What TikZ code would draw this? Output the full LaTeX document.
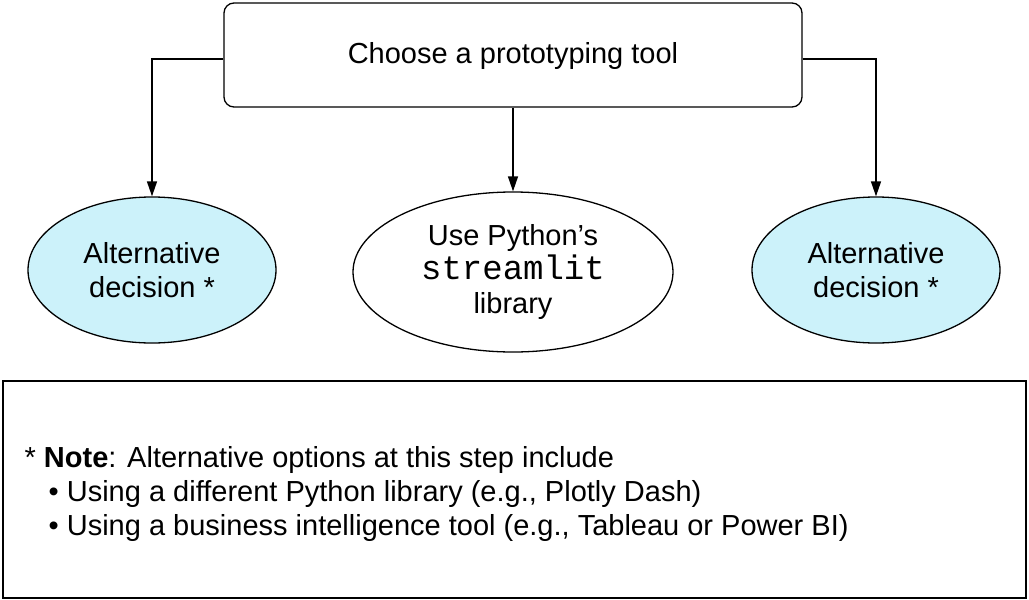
\documentclass[tikz,border=0pt]{standalone}
\usepackage{fontspec}
\setmainfont{Liberation Sans}
\setmonofont{Liberation Mono}
\usetikzlibrary{shapes.geometric,arrows.meta}
\definecolor{altfill}{RGB}{204,242,250}
\tikzset{
  base/.style={font=\fontsize{29}{34}\selectfont, line width=1.3pt, align=center, inner sep=0pt},
  topbox/.style={base, draw, rounded corners=10pt, minimum width=578pt, minimum height=104pt},
  alt/.style={base, draw, ellipse, fill=altfill, minimum width=248pt, minimum height=146pt},
  mainell/.style={base, draw, ellipse, fill=white, minimum width=320pt, minimum height=160pt},
  conn/.style={line width=1.3pt, -{Triangle[length=15pt,width=10pt]}},
  notebox/.style={draw, line width=1.3pt, minimum width=1023pt, minimum height=217pt, inner sep=0pt}
}
\begin{document}
\begin{tikzpicture}[x=1pt,y=-1pt]
\useasboundingbox (0,0) rectangle (1029,600);
\node[topbox, text depth=4pt] (top) at (513,55) {Choose a prototyping tool};
\node[alt] (left) at (152,270) {Alternative\\decision *};
\node[mainell] (mid) at (513,272) {Use Python’s\\{\fontsize{34}{34}\selectfont\texttt{streamlit}}\\library};
\node[alt] (right) at (876,270) {Alternative\\decision *};
\draw[conn] ([yshift=-4pt]top.west) -| (left.north);
\draw[conn] (top.south) -- (mid.north);
\draw[conn] ([yshift=-4pt]top.east) -| (right.north);
\node[notebox] (note) at (514.5,489.5) {};
\node[base, anchor=north west, align=left] (notetext) at (24,446)
  {* \textbf{Note}: Alternative options at this step include\\
   \hspace*{24pt}• Using a different Python library (e.g., Plotly Dash)\\
   \hspace*{24pt}• Using a business intelligence tool (e.g., Tableau or Power BI)};
\end{tikzpicture}
\end{document}
